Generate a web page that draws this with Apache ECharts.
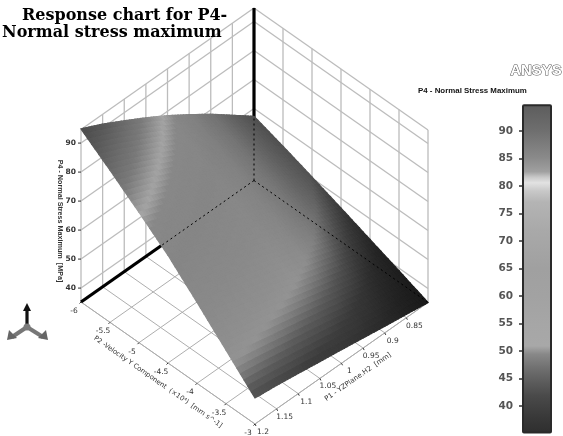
<!DOCTYPE html>
<html><head><meta charset="utf-8">
<style>html,body{margin:0;padding:0;background:#fff}#c{width:563px;height:436px;filter:blur(0.45px)}</style>
<script src="https://cdn.jsdelivr.net/npm/echarts@6/dist/echarts.min.js"></script>
</head><body><div id="c"></div>
<script>
// ---- data ----
const p1Values = [0.8, 0.85, 0.9, 0.95, 1, 1.05, 1.1, 1.15, 1.2];
const p2Values = [-6, -5.5, -5, -4.5, -4, -3.5, -3];
const zAtP2m60 = [57.3, 62.9, 68.5, 73.6, 78.5, 83.0, 87.2, 91.3, 94.9];
const zAtP2m55 = [54.0, 59.0, 63.9, 68.5, 72.9, 76.9, 80.7, 84.4, 87.7];
const zAtP2m50 = [50.4, 54.8, 59.1, 63.1, 66.9, 70.5, 73.9, 77.2, 80.2];
const zAtP2m45 = [46.7, 50.4, 54.0, 57.4, 60.8, 63.9, 66.8, 69.7, 72.4];
const zAtP2m40 = [42.9, 45.7, 48.6, 51.2, 53.8, 56.3, 58.7, 61.0, 63.2];
const zAtP2m35 = [39.1, 41.1, 43.0, 44.9, 46.8, 48.6, 50.3, 52.1, 53.7];
const zAtP2m30 = [35.2, 36.4, 37.5, 38.7, 39.9, 41.0, 42.2, 43.3, 44.2];
const zRows = [zAtP2m60, zAtP2m55, zAtP2m50, zAtP2m45, zAtP2m40, zAtP2m35, zAtP2m30];

const p1Ticks = [0.85, 0.9, 0.95, 1, 1.05, 1.1, 1.15, 1.2];
const p2Ticks = [-6, -5.5, -5, -4.5, -4, -3.5, -3];
const zTicks = [40, 50, 60, 70, 80, 90];
const legendTicks = [40, 45, 50, 55, 60, 65, 70, 75, 80, 85, 90];
const zFloor = 35.2, zTop = 94.7;

// grey levels by stress value
const surfaceLevels = [35, 38, 42, 46, 49, 51, 54, 60, 70, 77, 79.5, 81, 84, 88, 91, 95];
const surfaceGrays  = [46, 50, 62, 92, 126, 147, 143, 138, 134, 136, 164, 150, 122, 104, 90, 76];
const legendLevels = [35, 38, 42, 45, 47, 49.5, 51, 55, 60, 65, 72, 77, 79, 80.5, 81.5, 82.5, 85, 90, 95];
const legendGrays  = [46, 56, 74, 96, 112, 136, 168, 166, 162, 160, 169, 180, 200, 226, 200, 160, 138, 110, 92];
// dimming toward the P1 = 0.8 edge of the lit surface
const shadeByP1 = [0.56, 0.7, 0.86, 0.96, 1, 1, 1, 1, 1];

const titleLines = ['Response chart for P4-', 'Normal stress maximum'];
const legendTitle = 'P4 - Normal Stress Maximum';
const p1Name = 'P1 - YZPlane.H2  [mm]';
const p2Name = 'P2 -Velocity Y Component  (×10⁴)  [mm s^-1]';
const zName = 'P4 - Normal Stress Maximum  [MPa]';

// ---- oblique projection of (P1, P2, stress) onto the page plane ----
function project(p1, p2, z) {
  const u = (1.2 - p1) / 0.4, v = (p2 + 6) / 3;
  return [81 + 173 * u + 174 * v, 302 - 121.5 * u + 122 * v - (z - zFloor) * 2.9];
}
function lookup(levels, grays, z) {
  if (z <= levels[0]) return grays[0];
  for (let i = 1; i < levels.length; i++) {
    if (z <= levels[i]) {
      const t = (z - levels[i - 1]) / (levels[i] - levels[i - 1]);
      return grays[i - 1] + t * (grays[i] - grays[i - 1]);
    }
  }
  return grays[grays.length - 1];
}
const grayCss = g => { g = Math.round(Math.max(0, Math.min(255, g))); return `rgb(${g},${g},${g})`; };

// ---- frame segments ----
const p1Min = p1Values[0], p1Max = p1Values[p1Values.length - 1];
const p2Min = p2Values[0], p2Max = p2Values[p2Values.length - 1];
const WALL = { stroke: '#bcbcbc', lineWidth: 1.3 };
const FLOOR = { stroke: '#aeaeae', lineWidth: 1 };
const TICK = { stroke: '#333', lineWidth: 1 };
const HEAVY = { stroke: '#000', lineWidth: 3.2 };
const DASH = { stroke: '#000', lineWidth: 1, lineDash: [2, 3] };
const frameSegs = [];
const seg = (a, b, s) => frameSegs.push([a, b, s]);
p1Ticks.concat([p1Min]).forEach(p => {
  seg([p, p2Min, zFloor], [p, p2Min, zTop], WALL);
  seg([p, p2Min, zFloor], [p, p2Max, zFloor], FLOOR);
});
p2Ticks.forEach(p => {
  if (p !== p2Min) seg([p1Min, p, zFloor], [p1Min, p, zTop], WALL);
  seg([p1Min, p, zFloor], [p1Max, p, zFloor], FLOOR);
});
zTicks.concat([zTop]).forEach(z => {
  seg([p1Max, p2Min, z], [p1Min, p2Min, z], WALL);
  seg([p1Min, p2Min, z], [p1Min, p2Max, z], WALL);
});
seg([p1Max, p2Max, zFloor], [p1Min, p2Max, zFloor], FLOOR);
seg([p1Max, p2Min, zFloor], [p1Max, p2Max, zFloor], FLOOR);
seg([p1Min, p2Min, zFloor], [p1Max, p2Min, zFloor], HEAVY);
seg([p1Min, p2Min, zFloor], [p1Min, p2Min, zTop], HEAVY);

const overlaySegs = [
  [[p1Min, p2Min, zFloor], [p1Max, p2Min, zFloor], DASH],
  [[p1Min, p2Min, zFloor], [p1Min, p2Max, zFloor], DASH],
  [[p1Min, p2Min, zFloor], [p1Min, p2Min, zTop], DASH]
];

function segRender(list) {
  return (params, api) => {
    const s = list[params.dataIndex];
    const a = api.coord(project(...s[0])), b = api.coord(project(...s[1]));
    return { type: 'line', shape: { x1: a[0], y1: a[1], x2: b[0], y2: b[1] }, style: s[2], silent: true };
  };
}

// ---- surface cells ----
const cells = [];
for (let i = 0; i < p2Values.length - 1; i++)
  for (let j = 0; j < p1Values.length - 1; j++) cells.push([i, j]);
const SUB = 8;
function surfaceRender(params, api) {
  const [i, j] = cells[params.dataIndex];
  const z00 = zRows[i][j], z01 = zRows[i][j + 1], z10 = zRows[i + 1][j], z11 = zRows[i + 1][j + 1];
  const children = [];
  const at = (a, b) => {
    const zz = (1 - a) * ((1 - b) * z00 + b * z01) + a * ((1 - b) * z10 + b * z11);
    const p1 = p1Values[j] + b * (p1Values[j + 1] - p1Values[j]);
    const p2 = p2Values[i] + a * (p2Values[i + 1] - p2Values[i]);
    return api.coord(project(p1, p2, zz));
  };
  for (let a = 0; a < SUB; a++) for (let b = 0; b < SUB; b++) {
    const a0 = a / SUB, a1 = (a + 1) / SUB, b0 = b / SUB, b1 = (b + 1) / SUB;
    const ac = (a0 + a1) / 2, bc = (b0 + b1) / 2;
    const zc = (1 - ac) * ((1 - bc) * z00 + bc * z01) + ac * ((1 - bc) * z10 + bc * z11);
    const shade = shadeByP1[j] + bc * (shadeByP1[j + 1] - shadeByP1[j]);
    const col = grayCss(lookup(surfaceLevels, surfaceGrays, zc) * shade);
    children.push({ type: 'polygon', silent: true,
      shape: { points: [at(a0, b0), at(a0, b1), at(a1, b1), at(a1, b0)] },
      style: { fill: col, stroke: col, lineWidth: 1.3 } });
  }
  return { type: 'group', children };
}

// ---- axis ticks and labels ----
const marks = [];
p2Ticks.forEach(t => marks.push({ kind: 'p2', v: t }));
p1Ticks.forEach(t => marks.push({ kind: 'p1', v: t }));
zTicks.forEach(t => marks.push({ kind: 'z', v: t }));
function markRender(params, api) {
  const m = marks[params.dataIndex];
  const font = { fontFamily: 'DejaVu Sans', fontSize: 7.5, fill: '#333' };
  let p, tick, tx, align;
  if (m.kind === 'p2') { p = api.coord(project(p1Max, m.v, zFloor)); tick = [p[0] - 1.5, p[1] + 1.5]; tx = [p[0] - 7, p[1] + 9]; align = 'center'; }
  if (m.kind === 'p1') { p = api.coord(project(m.v, p2Max, zFloor)); tick = [p[0] + 1, p[1] + 2]; tx = [p[0] + 8, p[1] + 8]; align = 'center'; }
  if (m.kind === 'z')  { p = api.coord(project(p1Max, p2Min, m.v)); tick = [p[0] - 3, p[1]]; tx = [p[0] - 5, p[1]]; align = 'right'; font.fontWeight = 'bold'; }
  return { type: 'group', silent: true, children: [
    { type: 'line', shape: { x1: p[0], y1: p[1], x2: tick[0], y2: tick[1] }, style: TICK },
    { type: 'text', x: tx[0], y: tx[1], style: Object.assign({ text: String(m.v), textAlign: align, textVerticalAlign: 'middle' }, font) }
  ] };
}

const legendStops = legendLevels.map((l, i) => ({
  offset: Math.max(0, Math.min(1, (zTop - l) / (zTop - zFloor))), color: grayCss(legendGrays[i])
})).sort((a, b) => a.offset - b.offset);

const axisText = (text, x, y, rot, family, size, weight) => ({
  type: 'text', x, y, rotation: rot, silent: true,
  style: { text, fontFamily: family, fontSize: size, fontWeight: weight, fill: '#333',
           textAlign: 'center', textVerticalAlign: 'middle' }
});
const triad = [
  { type: 'line', shape: { x1: 27, y1: 327, x2: 12, y2: 337 }, style: { stroke: '#777', lineWidth: 4 } },
  { type: 'line', shape: { x1: 27, y1: 327, x2: 43, y2: 337 }, style: { stroke: '#777', lineWidth: 4 } },
  { type: 'polygon', shape: { points: [[7, 340], [9, 330], [17, 338]] }, style: { fill: '#666' } },
  { type: 'polygon', shape: { points: [[48, 340], [46, 330], [38, 338]] }, style: { fill: '#666' } },
  { type: 'line', shape: { x1: 27, y1: 327, x2: 27, y2: 310 }, style: { stroke: '#111', lineWidth: 3.2 } },
  { type: 'polygon', shape: { points: [[27, 303], [23, 311], [31, 311]] }, style: { fill: '#111' } },
  { type: 'circle', shape: { cx: 27, cy: 327, r: 3.5 }, style: { fill: '#7a7a7a' } }
];

const chart = echarts.init(document.getElementById('c'), null, { renderer: 'canvas' });
const base = { type: 'custom', coordinateSystem: 'cartesian2d', xAxisIndex: 0, yAxisIndex: 0, clip: false,
  animation: false, progressive: 0, silent: true };
const titleStyle = { fontFamily: 'DejaVu Serif', fontWeight: 'bold', fontSize: 16, color: '#000' };
chart.setOption({
  animation: false,
  backgroundColor: '#fff',
  title: [
    { text: titleLines[0], left: 22, top: 8, textStyle: titleStyle, padding: 0 },
    { text: titleLines[1], left: 2, top: 25, textStyle: titleStyle, padding: 0 },
    { text: legendTitle, left: 418, top: 87, textStyle: { fontFamily: 'Liberation Sans', fontWeight: 'bold', fontSize: 7.9, color: '#111' }, padding: 0 }
  ],
  grid: [
    { left: 0, top: 0, width: 563, height: 436 },
    { left: 523, top: 103.5, width: 28, height: 330 }
  ],
  xAxis: [
    { type: 'value', gridIndex: 0, min: 0, max: 563, show: false },
    { type: 'value', gridIndex: 1, min: 0, max: 1, show: false }
  ],
  yAxis: [
    { type: 'value', gridIndex: 0, min: 0, max: 436, inverse: true, show: false },
    { type: 'value', gridIndex: 1, min: 35, max: 95, position: 'left',
      axisLine: { show: false }, splitLine: { show: false },
      axisTick: { show: true, length: 4, customValues: legendTicks, lineStyle: { color: '#333', width: 1.5 } },
      axisLabel: { customValues: legendTicks, margin: 10, fontFamily: 'DejaVu Sans', fontSize: 10.5, fontWeight: 'bold', color: '#555' } }
  ],
  graphic: [
    { type: 'group', silent: true, children: triad },
    { type: 'text', x: 536, y: 71, silent: true, style: { text: 'ANSYS', fontFamily: 'Liberation Sans', fontWeight: 'bold', fontSize: 15, fill: '#fff', stroke: '#555', lineWidth: 1, textAlign: 'center', textVerticalAlign: 'middle' } },
    axisText(zName, 60, 221, -Math.PI / 2, 'Liberation Sans', 7.2, 'bold'),
    axisText(p2Name, 158, 382, -0.61, 'DejaVu Sans', 6.8, 'normal'),
    axisText(p1Name, 358, 377, 0.61, 'DejaVu Sans', 7, 'normal')
  ],
  series: [
    Object.assign({}, base, { z: 1, data: frameSegs.map((s, i) => [i]), encode: { x: 0, y: 0 }, renderItem: segRender(frameSegs) }),
    Object.assign({}, base, { z: 2, data: marks.map((s, i) => [i]), encode: { x: 0, y: 0 }, renderItem: markRender }),
    Object.assign({}, base, { z: 3, data: cells.map((s, i) => [i]), encode: { x: 0, y: 0 }, renderItem: surfaceRender }),
    Object.assign({}, base, { z: 4, data: overlaySegs.map((s, i) => [i]), encode: { x: 0, y: 0 }, renderItem: segRender(overlaySegs) }),
    { type: 'custom', coordinateSystem: 'cartesian2d', xAxisIndex: 1, yAxisIndex: 1, animation: false, silent: true, clip: false,
      data: [[0, zFloor, zTop]], encode: { y: [1, 2] },
      renderItem: (params, api) => {
        const a = api.coord([0, zTop]), b = api.coord([1, zFloor]);
        return { type: 'rect', silent: true, shape: { x: a[0], y: a[1], width: b[0] - a[0], height: b[1] - a[1], r: 1 },
          style: { fill: new echarts.graphic.LinearGradient(0, 0, 0, 1, legendStops), stroke: '#2a2a2a', lineWidth: 2 } };
      } }
  ]
});
</script></body></html>
